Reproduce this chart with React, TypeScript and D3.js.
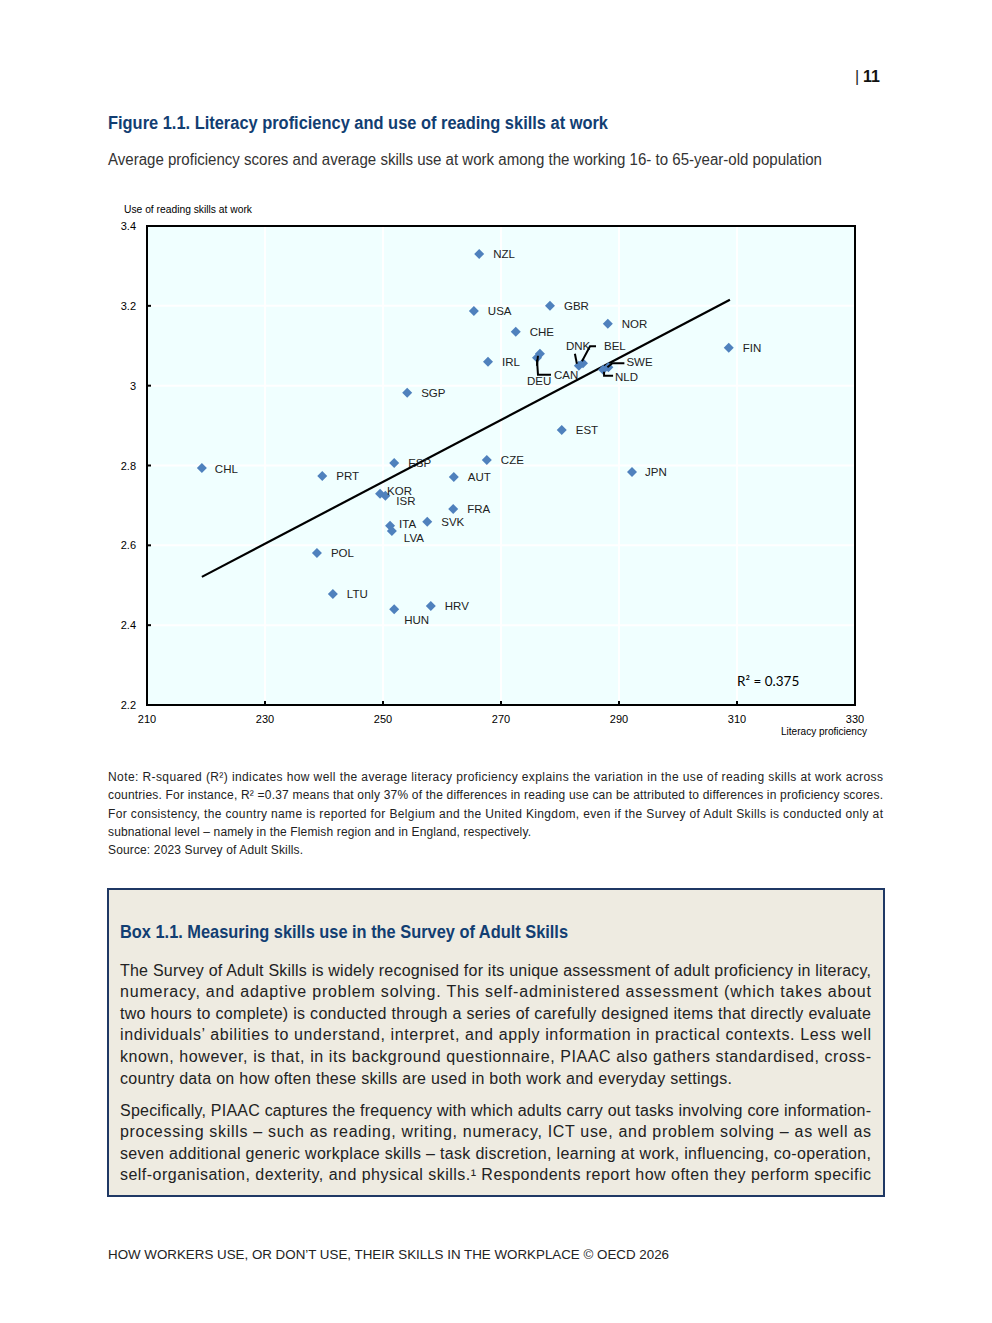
import React from "react";
import * as d3 from "d3";

const countries = ["NZL","USA","GBR","CHE","NOR","IRL","DEU","CAN","DNK","BEL","SWE","NLD","FIN","SGP","EST","CZE","ESP","CHL","PRT","AUT","JPN","KOR","ISR","FRA","SVK","ITA","LVA","POL","LTU","HUN","HRV"];
const literacy = [266.3,265.4,278.3,272.5,288.1,267.8,276.6,276.1,283.2,283.9,288.2,287.3,308.6,254.1,280.3,267.6,251.9,219.3,239.7,262.0,292.2,249.5,250.4,261.9,257.5,251.2,251.5,238.8,241.5,251.9,258.1];
const readingUse = [3.330,3.187,3.200,3.135,3.155,3.060,3.080,3.070,3.050,3.056,3.046,3.040,3.095,2.982,2.889,2.814,2.806,2.794,2.774,2.771,2.784,2.729,2.724,2.691,2.659,2.649,2.636,2.581,2.478,2.440,2.448];
const xTicks = [210,230,250,270,290,310,330];
const yTicks = [2.2,2.4,2.6,2.8,3.0,3.2,3.4];
const trendX = [219.3, 308.8];
const trendY = [2.521, 3.215];
const rSquared = "0.375";

// label layout (pixel offsets relative to the marker)
const labelLayout: Record<string, { dx: number; dy: number; leader?: number[][] }> = {
  KOR: { dx: 7, dy: -3 },
  ISR: { dx: 11, dy: 5 },
  ITA: { dx: 9, dy: -2 },
  LVA: { dx: 12, dy: 7 },
  HUN: { dx: 10, dy: 11 },
  CHL: { dx: 13, dy: 1 },
  JPN: { dx: 13, dy: 0 },
  DEU: { dx: -13, dy: 27, leader: [[-2, 2], [-3, 12]] },
  CAN: { dx: 17, dy: 17, leader: [[0, 2], [1, 17], [14, 17]] },
  DNK: { dx: -13, dy: -20, leader: [[-4, -12], [-2, -2]] },
  BEL: { dx: 21, dy: -17, leader: [[13, -17], [7, -17], [-1, -2]] },
  SWE: { dx: 18, dy: -5, leader: [[16, -4], [4, -4], [-1, 0]] },
  NLD: { dx: 12, dy: 7, leader: [[10, 6], [1, 6], [1, 2]] },
};

const NARROW = "'Liberation Sans Narrow','Arial Narrow','Liberation Sans',Arial,sans-serif";
const ARIAL = "'Liberation Sans',Arial,sans-serif";
const NAVY = "#123e72";

const noteLines = [
  "Note: R-squared (R\u00b2) indicates how well the average literacy proficiency explains the variation in the use of reading skills at work across",
  "countries. For instance, R\u00b2 =0.37 means that only 37% of the differences in reading use can be attributed to differences in proficiency scores.",
  "For consistency, the country name is reported for Belgium and the United Kingdom, even if the Survey of Adult Skills is conducted only at",
  "subnational level \u2013 namely in the Flemish region and in England, respectively.",
  "Source: 2023 Survey of Adult Skills.",
];
const noteWidths = [775, 775, 775, 423, 195];
const para1 = [
  "The Survey of Adult Skills is widely recognised for its unique assessment of adult proficiency in literacy,",
  "numeracy, and adaptive problem solving. This self-administered assessment (which takes about",
  "two hours to complete) is conducted through a series of carefully designed items that directly evaluate",
  "individuals\u2019 abilities to understand, interpret, and apply information in practical contexts. Less well",
  "known, however, is that, in its background questionnaire, PIAAC also gathers standardised, cross-",
  "country data on how often these skills are used in both work and everyday settings.",
];
const para1Widths = [751, 751, 751, 751, 751, 612];
const para2 = [
  "Specifically, PIAAC captures the frequency with which adults carry out tasks involving core information-",
  "processing skills \u2013 such as reading, writing, numeracy, ICT use, and problem solving \u2013 as well as",
  "seven additional generic workplace skills \u2013 task discretion, learning at work, influencing, co-operation,",
  "self-organisation, dexterity, and physical skills.\u00b9 Respondents report how often they perform specific",
];

export default function App() {
  const x = d3.scaleLinear().domain([210, 330]).range([147, 855]);
  const y = d3.scaleLinear().domain([2.2, 3.4]).range([705, 226]);
  const square = d3.symbol().type(d3.symbolSquare).size(50)() as string;
  const line = d3.line<number>().x((_, i) => x(trendX[i])).y((_, i) => y(trendY[i]));

  return (
    <svg width={992} height={1323} style={{ position: "absolute", left: 0, top: 0, background: "#fff" }}>
      {/* page number */}
      <text x={855} y={82} fontFamily={ARIAL} fontSize={16} fill="#222">|</text>
      <text x={863} y={82} fontFamily={ARIAL} fontSize={16} fontWeight="bold" fill="#111">11</text>

      {/* titles */}
      <text x={108} y={129} fontFamily={NARROW} fontSize={18} fontWeight="bold" fill={NAVY} textLength={500} lengthAdjust="spacingAndGlyphs">
        Figure 1.1. Literacy proficiency and use of reading skills at work
      </text>
      <text x={108} y={165} fontFamily={NARROW} fontSize={16} fill="#333" textLength={714} lengthAdjust="spacingAndGlyphs">
        Average proficiency scores and average skills use at work among the working 16- to 65-year-old population
      </text>

      {/* chart */}
      <rect x={x(210)} y={y(3.4)} width={x(330) - x(210)} height={y(2.2) - y(3.4)} fill="#f0ffff" />
      {xTicks.slice(1, -1).map((t) => (
        <line key={"gx" + t} x1={x(t)} x2={x(t)} y1={y(2.2)} y2={y(3.4)} stroke="#fff" strokeWidth={2} />
      ))}
      {yTicks.slice(1, -1).map((t) => (
        <line key={"gy" + t} x1={x(210)} x2={x(330)} y1={y(t)} y2={y(t)} stroke="#fff" strokeWidth={2} />
      ))}
      {yTicks.map((t) => (
        <g key={"ty" + t}>
          <line x1={x(210)} x2={x(210) + 4} y1={y(t)} y2={y(t)} stroke="#000" strokeWidth={2} />
          <text x={136} y={y(t) + 4} textAnchor="end" fontFamily={NARROW} fontSize={11} fill="#000">{d3.format("")(t)}</text>
        </g>
      ))}
      {xTicks.map((t) => (
        <g key={"tx" + t}>
          <line x1={x(t)} x2={x(t)} y1={y(2.2)} y2={y(2.2) - 4} stroke="#000" strokeWidth={2} />
          <text x={x(t)} y={723} textAnchor="middle" fontFamily={NARROW} fontSize={11} fill="#000">{t}</text>
        </g>
      ))}
      <text x={124} y={213} fontFamily={NARROW} fontSize={11} fill="#000" textLength={128} lengthAdjust="spacingAndGlyphs">Use of reading skills at work</text>
      <text x={867} y={735} textAnchor="end" fontFamily={NARROW} fontSize={11} fill="#000" textLength={86} lengthAdjust="spacingAndGlyphs">Literacy proficiency</text>

      <path d={line([0, 1]) as string} fill="none" stroke="#000" strokeWidth={2.2} />

      {countries.map((c, i) => (
        <path key={c} d={square} transform={`translate(${x(literacy[i])},${y(readingUse[i])}) rotate(45)`} fill="#4f81bd" />
      ))}
      {countries.map((c, i) => {
        const px = x(literacy[i]);
        const py = y(readingUse[i]);
        const lay = labelLayout[c] || { dx: 14, dy: 0 };
        return (
          <g key={"l" + c}>
            {lay.leader && (
              <polyline points={lay.leader.map((p) => `${px + p[0]},${py + p[1]}`).join(" ")} fill="none" stroke="#000" strokeWidth={2} />
            )}
            <text x={px + lay.dx} y={py + lay.dy + 4} fontFamily={NARROW} fontSize={11.5} fill="#222">{c}</text>
          </g>
        );
      })}
      <rect x={x(210)} y={y(3.4)} width={x(330) - x(210)} height={y(2.2) - y(3.4)} fill="none" stroke="#000" strokeWidth={2} />
      <text x={737} y={686} fontFamily="Lato, 'Open Sans', sans-serif" fontSize={13.5} fill="#000">R² = {rSquared}</text>

      {/* notes */}
      {noteLines.map((l, i) => (
        <text key={"n" + i} x={108} y={781 + i * 18.3} fontFamily={NARROW} fontSize={12} fill="#222"
          textLength={noteWidths[i]} lengthAdjust="spacing">{l}</text>
      ))}

      {/* box */}
      <rect x={108} y={889} width={776} height={307} fill="#eeebe1" stroke="#1f3864" strokeWidth={2} />
      <text x={120} y={938} fontFamily={NARROW} fontSize={19} fontWeight="bold" fill={NAVY} textLength={448} lengthAdjust="spacingAndGlyphs">
        Box 1.1. Measuring skills use in the Survey of Adult Skills
      </text>
      {para1.map((l, i) => (
        <text key={"p1" + i} x={120} y={975.5 + i * 21.6} fontFamily={NARROW} fontSize={16} fill="#222"
          textLength={para1Widths[i]} lengthAdjust="spacing">{l}</text>
      ))}
      {para2.map((l, i) => (
        <text key={"p2" + i} x={120} y={1115.5 + i * 21.6} fontFamily={NARROW} fontSize={16} fill="#222"
          textLength={751} lengthAdjust="spacing">{l}</text>
      ))}

      <text x={108} y={1259} fontFamily={ARIAL} fontSize={12.5} fill="#222" textLength={561} lengthAdjust="spacingAndGlyphs">
        HOW WORKERS USE, OR DON{"\u2019"}T USE, THEIR SKILLS IN THE WORKPLACE © OECD 2026
      </text>
    </svg>
  );
}
